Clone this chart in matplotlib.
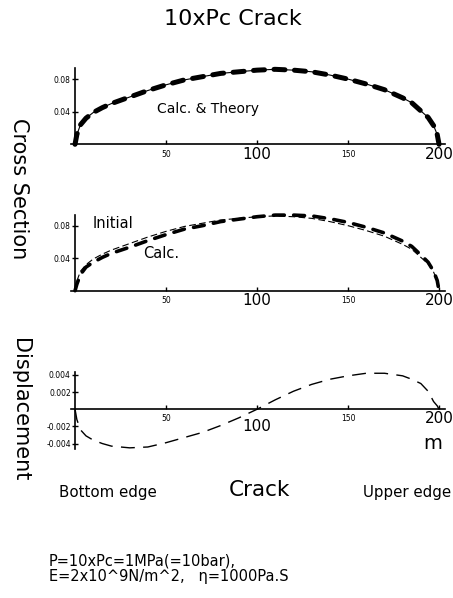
import matplotlib
matplotlib.use("Agg")
import matplotlib.pyplot as plt
from matplotlib.transforms import ScaledTranslation

# position along the crack (m), bottom edge -> upper edge
x_pos = [0, 1, 3, 6, 10, 15, 20, 30, 40, 50, 60, 70, 80, 90, 100,
         110, 120, 130, 140, 150, 160, 170, 180, 185, 190, 194, 197, 199, 200]

# cross section: theory / initial shape
theory = [0, 0.012, 0.024, 0.032, 0.039, 0.045, 0.050, 0.058, 0.066, 0.073,
          0.079, 0.083, 0.087, 0.089, 0.091, 0.092, 0.091, 0.089, 0.085, 0.080,
          0.074, 0.067, 0.057, 0.051, 0.041, 0.033, 0.023, 0.012, 0]

# cross section: calculated shape (second panel)
calc = [0, 0.008, 0.020, 0.029, 0.035, 0.041, 0.046, 0.0535, 0.0616, 0.069,
        0.0757, 0.080, 0.085, 0.088, 0.091, 0.093, 0.093, 0.092, 0.0885, 0.084,
        0.078, 0.071, 0.061, 0.0545, 0.044, 0.035, 0.024, 0.0125, 0]

# displacement of the crack wall
displacement = [0, -0.0012, -0.0024, -0.0031, -0.0036, -0.0040, -0.0043, -0.0045,
                -0.0044, -0.0039, -0.0033, -0.0027, -0.0019, -0.0010, 0.0,
                0.0011, 0.0021, 0.0029, 0.0035, 0.0039, 0.0042, 0.0042, 0.0039,
                0.0035, 0.0030, 0.0021, 0.0009, 0.0004, 0]

x_ticks = [50, 100, 150, 200]
x_tick_labels = ["50", "100", "150", "200"]
x_tick_sizes = [5.5, 11, 5.5, 11]

cs_ticks = [0.04, 0.08]
cs_tick_labels = ["0.04", "0.08"]
disp_ticks = [-0.004, -0.002, 0.002, 0.004]
disp_tick_labels = ["-0.004", "-0.002", "0.002", "0.004"]

W, H = 453, 598
fig = plt.figure(figsize=(W / 100, H / 100), dpi=100)


def px_axes(left, top, right, bottom):
    """add an axes given pixel box (top-left origin)"""
    return fig.add_axes([left / W, 1 - bottom / H, (right - left) / W, (bottom - top) / H])


def style_axes(ax, yticks, ylabels):
    for side in ("top", "right"):
        ax.spines[side].set_visible(False)
    ax.spines["left"].set_position(("data", 0))
    ax.spines["bottom"].set_position(("data", 0))
    for side in ("left", "bottom"):
        ax.spines[side].set_linewidth(1.2)
    ax.set_xlim(-2, 203)
    ax.set_xticks(x_ticks)
    ax.set_xticklabels(x_tick_labels)
    ax.tick_params(axis="x", direction="in", length=3, width=1, pad=7)
    for lab, size in zip(ax.get_xticklabels(), x_tick_sizes):
        lab.set_fontsize(size)
        lab.set_verticalalignment("center")
    ax.set_yticks(yticks)
    ax.set_yticklabels(ylabels)
    ax.tick_params(axis="y", direction="inout", length=4, width=1, pad=1,
                   labelsize=5.5)
    ax.patch.set_alpha(0)


# panel 1: calc & theory
ax1 = px_axes(71.4, 67.7, 444.5, 144.3)
ax1.plot(x_pos, theory, color="black", lw=0.8, clip_on=False)
ax1.plot(x_pos, theory, color="black", lw=3.6, ls=(0, (2.2, 1.9)),
         dash_capstyle="round", clip_on=False)
ax1.set_ylim(0, 0.094)
style_axes(ax1, cs_ticks, cs_tick_labels)
ax1.text(208, 108, "Calc. & Theory", transform=None, fontsize=10)

# panel 2: initial vs calc
ax2 = px_axes(71.4, 215.1, 444.5, 290.7)
ax2.plot(x_pos, theory, color="black", lw=0.8, ls=(0, (6, 3)), clip_on=False)
ax2.plot(x_pos, calc, color="black", lw=2.6, ls=(0, (3.0, 2.6)),
         dash_capstyle="round", clip_on=False)
ax2.set_ylim(0, 0.093)
style_axes(ax2, cs_ticks, cs_tick_labels)

# panel 3: displacement
ax3 = px_axes(71.4, 372.4, 444.5, 448.7)
ax3.plot(x_pos, displacement, color="black", lw=1.0, ls=(0, (10, 6)), clip_on=False)
ax3.set_ylim(-0.0046, 0.0043)
style_axes(ax3, disp_ticks, disp_tick_labels)
# the "100" label sits a bit lower in this panel
lab100 = ax3.get_xticklabels()[1]
lab100.set_transform(lab100.get_transform() + ScaledTranslation(0, -0.08, fig.dpi_scale_trans))
ax3.text(0.969, 0.07, "m", transform=ax3.transAxes, fontsize=14,
         ha="center", va="center")


def fig_text(x, y, s, **kw):
    fig.text(x / W, 1 - y / H, s, **kw)


fig_text(113, 224, "Initial", fontsize=10.5, ha="center", va="center")
fig_text(161, 253, "Calc.", fontsize=10.5, ha="center", va="center")
ax1.texts[0].remove()
fig_text(208, 109, "Calc. & Theory", fontsize=10, ha="center", va="center")

fig_text(233, 19, "10xPc Crack", fontsize=16, ha="center", va="center")
fig_text(19, 189, "Cross Section", fontsize=15, rotation=-90, ha="center", va="center")
fig_text(20, 410, "Displacement", fontsize=15, rotation=-90, ha="center", va="center")

fig_text(108, 493, "Bottom edge", fontsize=10.8, ha="center", va="center")
fig_text(259, 490, "Crack", fontsize=15.5, ha="center", va="center")
fig_text(407, 493, "Upper edge", fontsize=10.8, ha="center", va="center")

fig_text(49, 561, "P=10xPc=1MPa(=10bar),", fontsize=10.5, ha="left", va="center")
fig_text(49, 577, "E=2x10^9N/m^2,   \u03b7=1000Pa.S", fontsize=10.5, ha="left", va="center")

fig.savefig("out.png", dpi=100)
